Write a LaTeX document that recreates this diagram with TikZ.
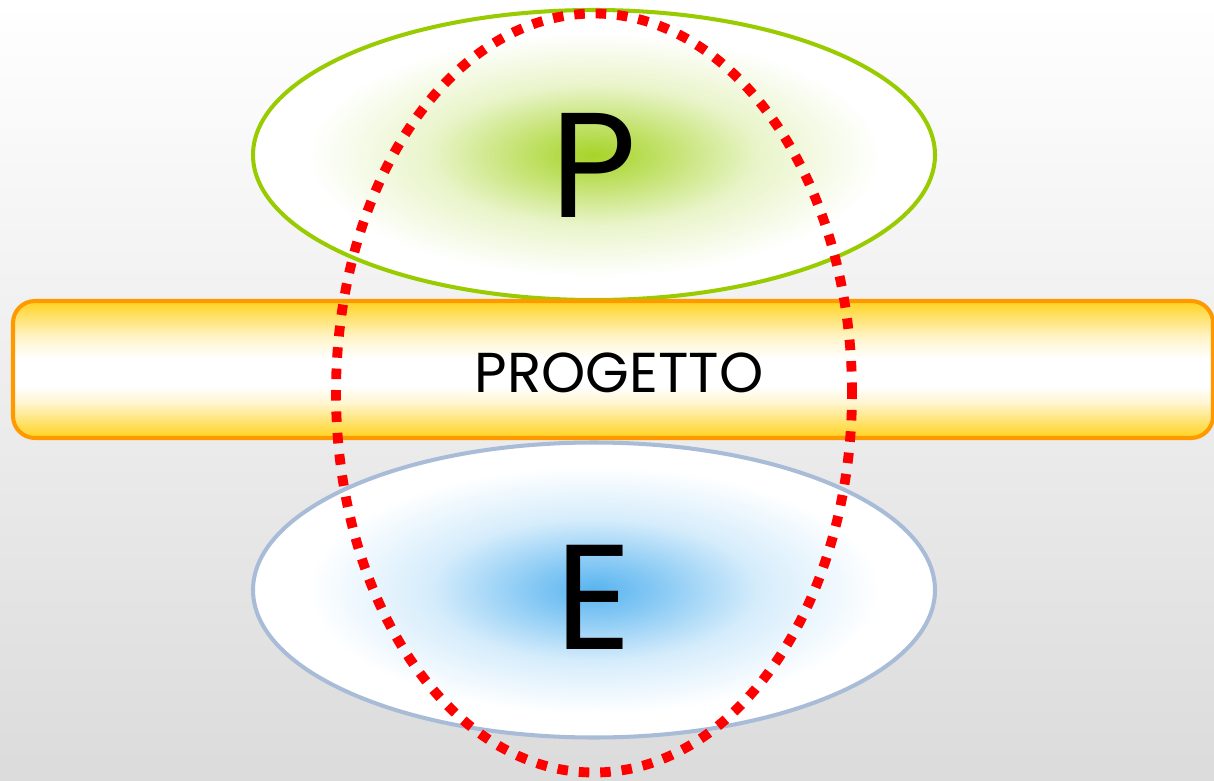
\documentclass[tikz,border=0pt]{standalone}
\usepackage{fontspec}
\setmainfont{Poppins}
\usetikzlibrary{shapes.geometric}
\definecolor{pgreen}{RGB}{153,204,0}
\definecolor{pglow}{RGB}{166,212,40}
\definecolor{eblue}{RGB}{168,188,216}
\definecolor{eglow}{RGB}{88,180,240}
\definecolor{barline}{RGB}{255,153,0}
\definecolor{baryel}{RGB}{255,210,30}
\definecolor{ringred}{RGB}{255,0,0}
\pgfdeclareradialshading{greenglow}{\pgfpointorigin}{color(0bp)=(pglow); color(5bp)=(pglow!70!white); color(12bp)=(pglow!25!white); color(21bp)=(white); color(50bp)=(white)}
\pgfdeclareradialshading{blueglow}{\pgfpointorigin}{color(0bp)=(eglow); color(5bp)=(eglow!70!white); color(12bp)=(eglow!25!white); color(21bp)=(white); color(50bp)=(white)}
\pgfdeclareverticalshading{barglow}{100bp}{color(0bp)=(baryel); color(25bp)=(baryel); color(30bp)=(baryel!70!white); color(38bp)=(baryel!20!white); color(44bp)=(white); color(54bp)=(white); color(62bp)=(baryel!25!white); color(70bp)=(baryel!70!white); color(75bp)=(baryel); color(100bp)=(baryel)}

\begin{document}
\begin{tikzpicture}[
oval/.style={ellipse,minimum width=13.64cm,line width=2.3pt,inner sep=0pt},
pfield/.style={oval,minimum height=5.8cm,draw=pgreen,shading=greenglow},
efield/.style={oval,minimum height=5.9cm,draw=eblue,shading=blueglow},
barbox/.style={rectangle,rounded corners=0.44cm,minimum width=24cm,minimum height=2.74cm,
  line width=2.3pt,draw=barline,shading=barglow},
ring/.style={ellipse,minimum width=10.32cm,minimum height=15.18cm,inner sep=0pt,
  draw=ringred,line width=5.6pt,dash pattern=on 6pt off 6.2pt},
bigletter/.style={font=\fontsize{85}{90}\selectfont,inner sep=0pt},
bartext/.style={font=\fontsize{32}{34}\selectfont,inner sep=0pt}]
% background
\shade[top color=white,bottom color=black!14] (0,0) rectangle (24.28,-15.62);
\useasboundingbox (0,0) rectangle (24.28,-15.62);
% fields
\node[pfield] (pfield) at (11.88,-3.10) {};
\node[efield] (efield) at (11.88,-11.80) {};
\node[barbox] (bar) at (12.26,-7.39) {};
\node[bigletter] (p) at (11.88,-3.30) {P};
\node[bigletter] (e) at (11.88,-11.94) {E};
\node[bartext] (progetto) at (12.38,-7.46) {PROGETTO};
% dotted ring on top
\node[ring] (ring) at (11.88,-7.86) {};
\end{tikzpicture}
\end{document}
